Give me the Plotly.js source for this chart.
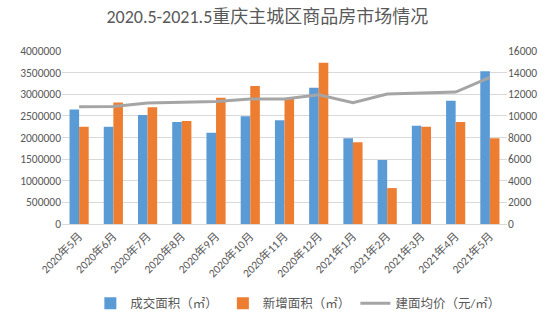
<!DOCTYPE html>
<html><head><meta charset="utf-8">
<script src="https://cdn.plot.ly/plotly-3.0.1.min.js"></script>
<style>html,body{margin:0;padding:0;background:#fff}#chart{width:557px;height:330px}</style>
</head><body><div id="chart"></div>
<script>
var categories = ["2020年5月","2020年6月","2020年7月","2020年8月","2020年9月","2020年10月","2020年11月","2020年12月","2021年1月","2021年2月","2021年3月","2021年4月","2021年5月"];
var dealArea = [2650000,2250000,2520000,2360000,2110000,2490000,2400000,3150000,1980000,1480000,2270000,2850000,3530000];
var newArea = [2250000,2810000,2700000,2380000,2920000,3190000,2900000,3730000,1890000,830000,2250000,2360000,1980000];
var avgPrice = [10850,10860,11200,11240,11330,11570,11570,11950,11210,12020,12110,12200,13550];

var fnt = "Calibri, Carlito, 'Liberation Sans', 'Noto Sans CJK SC', sans-serif";
var traces = [
  {type:'bar', name:'成交面积（㎡）', x:categories, y:dealArea, marker:{color:'#5B9BD5'}},
  {type:'bar', name:'新增面积（㎡）', x:categories, y:newArea, marker:{color:'#ED7D31'}},
  {type:'scatter', mode:'lines', name:'建面均价（元/㎡）', x:categories, y:avgPrice, yaxis:'y2', line:{color:'#A5A5A5', width:3}}
];
var layout = {
  width:557, height:330,
  margin:{l:62, r:50, t:51, b:101},
  paper_bgcolor:'#fff', plot_bgcolor:'#fff',
  font:{family:fnt, color:'#595959', size:12},
  title:{text:'2020.5-2021.5重庆主城区商品房市场情况', x:0.48, xref:'container', xanchor:'center', y:0.95, yanchor:'middle', font:{size:18, color:'#595959', family:fnt}},
  barmode:'group', bargap:0.44, bargroupgap:0,
  showlegend:true,
  legend:{orientation:'h', x:0.53, xanchor:'center', y:-0.46, yanchor:'middle', font:{size:12.5, color:'#595959'}, traceorder:'normal'},
  xaxis:{type:'category', tickangle:-45, showgrid:false, showline:true, linecolor:'#D9D9D9', linewidth:1, ticks:'', tickfont:{size:11.5, color:'#595959'}},
  yaxis:{range:[0,4000000], dtick:500000, tickformat:'d', showgrid:true, gridcolor:'#D9D9D9', zeroline:false, showline:false, ticks:'', tickfont:{size:11.5, color:'#595959'}},
  yaxis2:{overlaying:'y', side:'right', range:[0,16000], dtick:2000, tickformat:'d', showgrid:false, zeroline:false, showline:false, ticks:'', tickfont:{size:11.5, color:'#595959'}}
};
Plotly.newPlot('chart', traces, layout, {displayModeBar:false, staticPlot:true});
</script></body></html>
